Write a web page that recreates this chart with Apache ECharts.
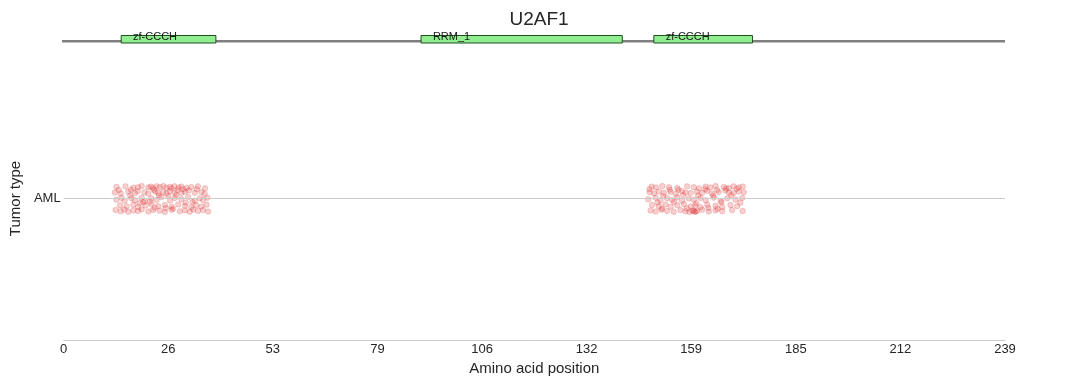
<!DOCTYPE html>
<html>
<head>
<meta charset="utf-8">
<script src="https://cdn.jsdelivr.net/npm/echarts@6/dist/echarts.min.js"></script>
<style>html,body{margin:0;padding:0;background:#fff;}#c{width:1078px;height:385px;}</style>
</head>
<body>
<div id="c"></div>
<script>
const geneName = 'U2AF1';
const proteinLength = 239;
const tumorTypes = ['AML'];
const tickLabels = ['0','26','53','79','106','132','159','185','212','239'];
const domainNames = ['zf-CCCH','RRM_1','zf-CCCH'];
const domainStart = [15, 91, 150];
const domainEnd = [39, 142, 175];

// [amino acid position (with jitter), vertical jitter]
const mutationsCluster1 = [
  [13.4,0.041],[15.7,0.043],[17.7,0.038],[18.9,0.040],[19.8,0.044],[21.5,0.039],[22.1,0.042],[22.7,0.037],[23.6,0.043],[24.4,0.040],
  [25.3,0.044],[26.1,0.038],[27.0,0.041],[27.4,0.036],[28.1,0.043],[29.2,0.039],[29.9,0.042],[31.2,0.037],[32.4,0.041],[34.1,0.043],
  [13.0,0.021],[14.5,0.018],[16.4,0.024],[18.1,0.019],[18.8,0.026],[20.5,0.022],[21.5,0.017],[23.2,0.025],[24.0,0.020],[25.3,0.023],
  [26.1,0.018],[27.0,0.026],[28.2,0.021],[28.9,0.030],[29.9,0.019],[30.8,0.024],[31.8,0.028],[33.3,0.020],[35.0,0.023],[35.8,0.017],
  [13.4,-0.004],[14.7,0.002],[15.5,-0.008],[17.2,0.001],[18.1,-0.006],[19.8,0.003],[20.6,-0.009],[22.3,0.000],[23.6,-0.005],[24.8,0.004],
  [27.0,-0.007],[28.2,0.002],[29.9,-0.003],[31.6,0.005],[33.3,-0.008],[34.6,0.001],[35.4,-0.005],[36.5,0.003],
  [14.3,-0.024],[16.0,-0.028],[17.7,-0.022],[18.9,-0.030],[20.8,-0.025],[22.3,-0.020],[24.0,-0.027],[25.7,-0.023],[27.4,-0.029],[29.1,-0.021],
  [30.8,-0.026],[32.4,-0.031],[33.7,-0.024],[35.0,-0.028],[36.3,-0.022],
  [13.2,-0.041],[14.5,-0.045],[15.4,-0.039],[16.4,-0.047],[17.7,-0.042],[18.9,-0.044],[19.8,-0.038],[21.5,-0.046],[22.7,-0.041],[24.4,-0.043],
  [25.7,-0.048],[27.4,-0.040],[29.5,-0.045],[30.8,-0.042],[32.0,-0.047],[32.9,-0.039],[34.1,-0.044],[35.4,-0.041],[36.7,-0.046],
  [20.2,-0.013],[22.9,0.031],[25.9,-0.034],[28.6,0.012],[31.0,-0.015],[33.8,0.033],[16.9,0.010],[19.3,-0.016],[26.6,0.009],[30.3,0.033],
  [21.9,-0.011],[17.1,0.031],[27.8,-0.036],[24.2,0.011],[35.9,0.036],[14.0,0.030],[32.7,-0.012],[23.1,-0.033]
];
const mutationsCluster2 = [
  [149.3,0.042],[150.4,0.039],[152.0,0.044],[153.7,0.040],[155.8,0.037],[158.3,0.043],[160.0,0.040],[161.3,0.036],[163.0,0.042],[164.2,0.039],
  [165.5,0.044],[167.6,0.041],[168.9,0.037],[170.1,0.043],[171.4,0.039],[172.4,0.042],
  [148.8,0.022],[149.9,0.018],[151.1,0.025],[152.4,0.020],[154.1,0.023],[155.4,0.017],[157.0,0.026],[157.9,0.021],[159.2,0.019],[160.8,0.024],
  [162.1,0.020],[163.4,0.027],[164.6,0.018],[166.3,0.023],[168.0,0.028],[168.9,0.021],[170.1,0.019],[171.4,0.025],[172.7,0.022],
  [148.4,-0.003],[150.3,0.003],[151.5,-0.007],[153.2,0.001],[154.5,-0.005],[155.8,0.004],[157.0,-0.008],[158.7,0.000],[160.0,-0.004],[161.7,0.002],
  [163.0,-0.006],[165.1,0.003],[166.8,-0.009],[168.5,0.001],[170.6,-0.004],[172.3,0.002],
  [149.4,-0.023],[151.1,-0.027],[152.8,-0.021],[154.1,-0.029],[155.8,-0.024],[157.5,-0.020],[159.2,-0.028],[160.4,-0.025],[161.7,-0.031],[163.4,-0.022],
  [165.5,-0.026],[167.2,-0.030],[169.3,-0.023],[171.0,-0.027],
  [149.0,-0.042],[150.3,-0.046],[151.8,-0.040],[153.2,-0.044],[154.9,-0.047],[156.6,-0.041],[157.9,-0.045],[159.6,-0.043],[160.4,-0.047],[160.8,-0.044],
  [162.1,-0.040],[163.8,-0.046],[165.5,-0.042],[167.2,-0.045],[169.7,-0.041],[172.4,-0.044],
  [160.2,-0.046],[159.9,-0.043],[158.9,-0.048],[156.1,0.031],[162.9,0.033],[167.0,-0.013],[150.8,-0.014],[153.9,0.031],[158.2,-0.035],[164.9,0.010],
  [170.9,0.034],[152.2,0.009],[161.1,0.011],[166.0,-0.036],[169.5,0.012],[155.0,-0.012],[171.8,-0.015],[148.7,0.033],[163.7,-0.034],[157.3,0.012],
  [168.2,0.035],[160.6,-0.017],[165.9,0.030],[151.9,-0.035]
];

const font = '"Liberation Sans", Arial, sans-serif';
const txt = '#262626';

const chart = echarts.init(document.getElementById('c'), null, {renderer: 'canvas'});
chart.setOption({
  backgroundColor: '#fff',
  animation: false,
  title: {
    text: geneName, left: 'center', top: 5,
    textStyle: {fontFamily: font, fontSize: 19, fontWeight: 'normal', color: txt}
  },
  grid: [
    {left: 62, right: 73, top: 57, bottom: 45},
    {left: 62, right: 73, top: 35.5, height: 7.5}
  ],
  xAxis: [
    {
      type: 'value', gridIndex: 0, min: 0, max: proteinLength, interval: proteinLength / 9,
      name: 'Amino acid position', nameLocation: 'middle', nameGap: 20,
      nameTextStyle: {fontFamily: font, fontSize: 15, color: txt},
      axisLine: {show: true, onZero: false, lineStyle: {color: '#cccccc', width: 1}},
      axisTick: {show: false},
      splitLine: {show: false},
      axisLabel: {
        fontFamily: font, fontSize: 13, color: txt, margin: 3,
        formatter: (v, i) => tickLabels[i]
      }
    },
    {
      type: 'value', gridIndex: 1, min: 0, max: proteinLength, show: false
    }
  ],
  yAxis: [
    {
      type: 'category', gridIndex: 0, data: tumorTypes,
      name: 'Tumor type', nameLocation: 'middle', nameGap: 40, nameRotate: 90,
      nameTextStyle: {fontFamily: font, fontSize: 15, color: txt},
      axisLine: {show: false}, axisTick: {show: false}, splitLine: {show: false},
      axisLabel: {fontFamily: font, fontSize: 13, color: txt, margin: 3}
    },
    {
      type: 'value', gridIndex: 0, min: -0.5, max: 0.5, show: false
    },
    {
      type: 'value', gridIndex: 1, min: 0, max: 1, show: false
    }
  ],
  series: [
    {
      type: 'scatter', xAxisIndex: 0, yAxisIndex: 1,
      data: mutationsCluster1.concat(mutationsCluster2),
      symbolSize: 5.5,
      itemStyle: {color: 'rgba(225,60,60,0.30)', borderColor: 'rgba(215,40,40,0.30)', borderWidth: 0.8},
      markLine: {
        silent: true, symbol: 'none', label: {show: false},
        lineStyle: {color: '#cccccc', width: 1, type: 'solid'},
        data: [{yAxis: 0}]
      },
      z: 3
    },
    {
      type: 'line', xAxisIndex: 1, yAxisIndex: 2,
      data: [[0, 0.25], [proteinLength, 0.25]],
      symbol: 'none', lineStyle: {color: '#808080', width: 2.5}, z: 1
    },
    {
      type: 'custom', xAxisIndex: 1, yAxisIndex: 2,
      data: domainStart.map((s, i) => [s, domainEnd[i], domainNames[i]]),
      z: 2,
      renderItem: function (params, api) {
        const a = api.coord([api.value(0), 1]);
        const b = api.coord([api.value(1), 0]);
        const t = api.coord([api.value(0) + 3, 0.8]);
        return {
          type: 'group',
          children: [
            {type: 'rect', shape: {x: a[0], y: a[1], width: b[0] - a[0], height: b[1] - a[1]},
             style: {fill: '#90ee90', stroke: '#1f4f1f', lineWidth: 1}},
            {type: 'text', style: {text: api.value(2), x: t[0], y: t[1], fill: '#1a1a1a',
              font: '11px ' + font, textAlign: 'left', textVerticalAlign: 'middle'}}
          ]
        };
      }
    }
  ]
});
</script>
</body>
</html>
